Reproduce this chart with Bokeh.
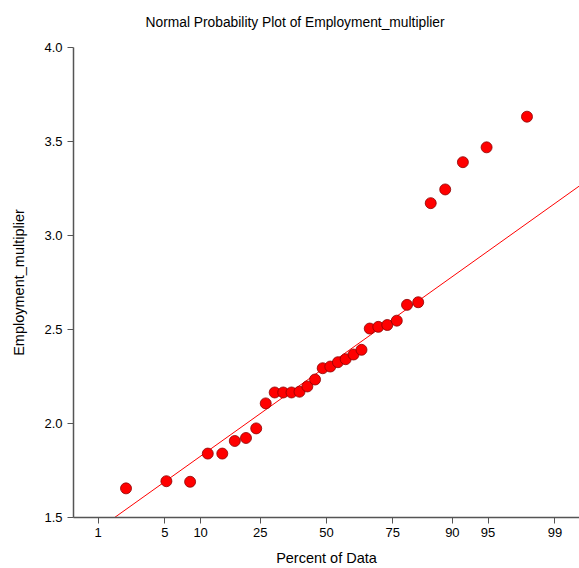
from statistics import NormalDist

from bokeh.embed import file_html
from bokeh.models import FixedTicker, Range1d, Title
from bokeh.plotting import figure
from bokeh.resources import INLINE

# Sorted observations of Employment_multiplier
values = [1.655, 1.693, 1.690, 1.840, 1.840, 1.907, 1.923, 1.974,
          2.107, 2.165, 2.165, 2.165, 2.169, 2.197, 2.234, 2.294,
          2.303, 2.326, 2.342, 2.367, 2.392, 2.505, 2.514, 2.524,
          2.547, 2.631, 2.645, 3.172, 3.245, 3.390, 3.469, 3.632]

# Percentile tick labels of the probability axis
percent_ticks = [1, 5, 10, 25, 50, 75, 90, 95, 99]

# Robust reference line: location and scale on the normal-score axis
line_center = 2.304
line_scale = 0.3727

nd = NormalDist()
n = len(values)
# Tukey plotting positions converted to normal scores
scores = [nd.inv_cdf((i - 1 / 3) / (n + 1 / 3)) for i in range(1, n + 1)]
tick_z = [nd.inv_cdf(p / 100.0) for p in percent_ticks]

z_lo, z_hi = nd.inv_cdf(0.005), nd.inv_cdf(0.995)

FONT = "Liberation Sans"

p = figure(width=579, height=568, output_backend="svg", toolbar_location=None,
           x_range=Range1d(z_lo, z_hi), y_range=Range1d(1.5, 4.0),
           min_border_left=73, min_border_right=0, min_border_top=47,
           min_border_bottom=50)
p.title = None
# The trailing empty line lifts the heading away from the frame
p.add_layout(Title(text="Normal Probability Plot of Employment_multiplier\n",
                   align="left", offset=72, standoff=6,
                   text_font=FONT, text_font_size="13.8px",
                   text_font_style="normal", text_color="#000000"), "above")

p.outline_line_color = None
p.xgrid.grid_line_color = None
p.ygrid.grid_line_color = None
p.background_fill_color = "white"

# Probability axis
p.xaxis.ticker = FixedTicker(ticks=tick_z)
p.xaxis.major_label_overrides = {z: str(pc) for z, pc in zip(tick_z, percent_ticks)}
p.xaxis.minor_tick_line_color = None
p.xaxis.major_tick_in = 0
p.xaxis.major_tick_out = 6
p.xaxis.axis_label = "Percent of Data"
p.xaxis.major_label_standoff = 4
p.xaxis.axis_label_standoff = 10

# Value axis
p.yaxis.ticker = FixedTicker(ticks=[1.5, 2.0, 2.5, 3.0, 3.5, 4.0])
p.yaxis.major_label_overrides = {v: f"{v:.1f}" for v in [1.5, 2.0, 2.5, 3.0, 3.5, 4.0]}
p.yaxis.minor_tick_line_color = None
p.yaxis.major_tick_in = 0
p.yaxis.major_tick_out = 6
p.yaxis.axis_label = "Employment_multiplier"
p.yaxis.major_label_standoff = 5
p.yaxis.axis_label_standoff = 14

for ax in (p.xaxis, p.yaxis):
    ax.axis_line_color = "#555555"
    ax.major_tick_line_color = "#555555"
    ax.axis_line_width = 1.5
    ax.major_label_text_font = FONT
    ax.major_label_text_font_size = "13px"
    ax.major_label_text_color = "#000000"
    ax.axis_label_text_font = FONT
    ax.axis_label_text_font_size = "14.5px"
    ax.axis_label_text_font_style = "normal"
    ax.axis_label_text_color = "#000000"

# Reference line across the whole probability range
p.line([z_lo, z_hi], [line_center + line_scale * z_lo, line_center + line_scale * z_hi],
       line_color="#FF0000", line_width=1)

p.scatter(scores, values, size=11, fill_color="#FF0000",
          line_color="#8B0000", line_width=0.8)

open("out.html", "w").write(file_html(p, INLINE))
